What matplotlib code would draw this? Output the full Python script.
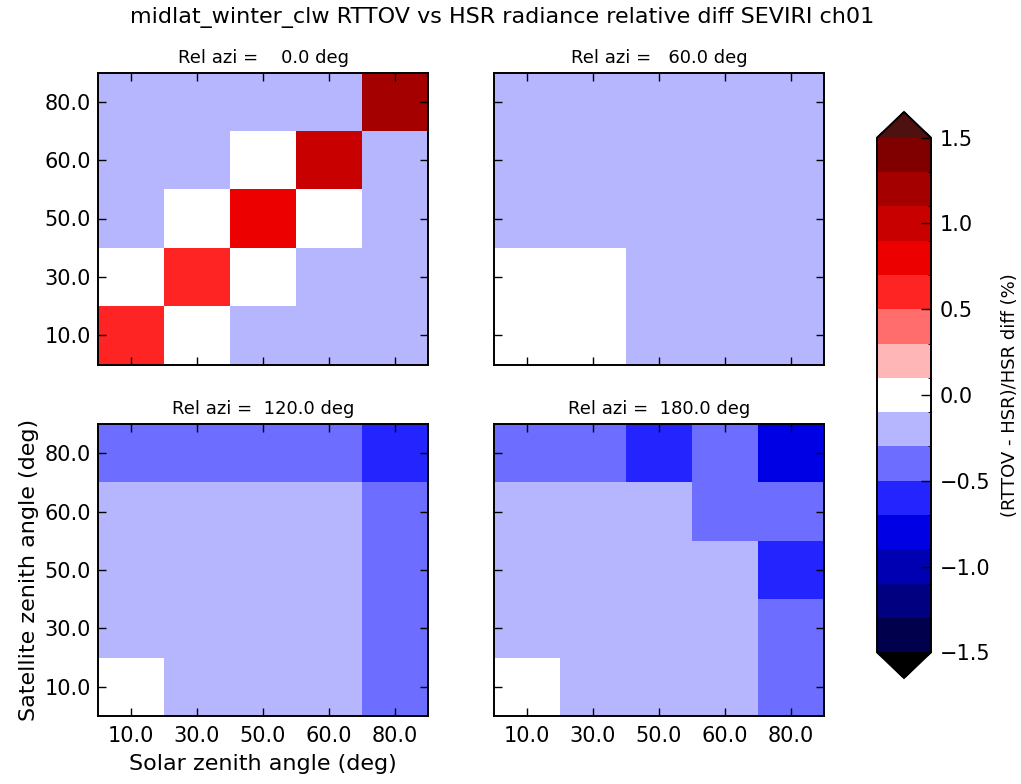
import numpy as np
import matplotlib
matplotlib.use("Agg")
import matplotlib.pyplot as plt
from matplotlib.colors import BoundaryNorm
from matplotlib.ticker import FuncFormatter

# Angle grids
solar_zenith = [10.0, 30.0, 50.0, 60.0, 80.0]
sat_zenith = [10.0, 30.0, 50.0, 60.0, 80.0]
rel_azi = [0.0, 60.0, 120.0, 180.0]

# Relative radiance differences (%), rows = satellite zenith (10 -> 80),
# columns = solar zenith (10 -> 80)
diff_azi0 = [
    [0.6, 0.0, -0.2, -0.2, -0.2],
    [0.0, 0.6, 0.0, -0.2, -0.2],
    [-0.2, 0.0, 0.8, 0.0, -0.2],
    [-0.2, -0.2, 0.0, 1.0, -0.2],
    [-0.2, -0.2, -0.2, -0.2, 1.2],
]
diff_azi60 = [
    [0.0, 0.0, -0.2, -0.2, -0.2],
    [0.0, 0.0, -0.2, -0.2, -0.2],
    [-0.2, -0.2, -0.2, -0.2, -0.2],
    [-0.2, -0.2, -0.2, -0.2, -0.2],
    [-0.2, -0.2, -0.2, -0.2, -0.2],
]
diff_azi120 = [
    [0.0, -0.2, -0.2, -0.2, -0.4],
    [-0.2, -0.2, -0.2, -0.2, -0.4],
    [-0.2, -0.2, -0.2, -0.2, -0.4],
    [-0.2, -0.2, -0.2, -0.2, -0.4],
    [-0.4, -0.4, -0.4, -0.4, -0.6],
]
diff_azi180 = [
    [0.0, -0.2, -0.2, -0.2, -0.4],
    [-0.2, -0.2, -0.2, -0.2, -0.4],
    [-0.2, -0.2, -0.2, -0.2, -0.6],
    [-0.2, -0.2, -0.2, -0.4, -0.4],
    [-0.4, -0.4, -0.6, -0.4, -0.8],
]
panels = [diff_azi0, diff_azi60, diff_azi120, diff_azi180]

levels = np.linspace(-1.5, 1.5, 16)
cbar_ticks = [-1.5, -1.0, -0.5, 0.0, 0.5, 1.0, 1.5]

plt.rcParams.update({
    "font.family": "DejaVu Sans",
    "xtick.direction": "in",
    "ytick.direction": "in",
    "xtick.top": True,
    "ytick.right": True,
    "xtick.major.size": 6,
    "ytick.major.size": 6,
    "xtick.major.width": 1.0,
    "ytick.major.width": 1.0,
    "xtick.major.pad": 7,
    "ytick.major.pad": 5,
    "axes.linewidth": 1.4,
})

# Discrete seismic palette, one colour per interval
cmap = plt.get_cmap("seismic", len(levels) - 1).copy()
cmap.set_over("#4f1010")
cmap.set_under("black")
norm = BoundaryNorm(levels, cmap.N)

W, H = 1021, 784
fig = plt.figure(figsize=(W / 100, H / 100), dpi=100)

lefts = [98, 494, 98, 494]
tops = [72.5, 72.5, 424, 424]
aw, ah = 330, 292

fmt = lambda v: f"{v:.1f}"
mesh = None
for i, (data, azi) in enumerate(zip(panels, rel_azi)):
    ax = fig.add_axes([lefts[i] / W, 1 - (tops[i] + ah) / H, aw / W, ah / H])
    arr = np.array(data)
    mesh = ax.pcolormesh(np.arange(len(solar_zenith) + 1),
                         np.arange(len(sat_zenith) + 1),
                         arr, cmap=cmap, norm=norm)
    ax.set_xlim(0, len(solar_zenith))
    ax.set_ylim(0, len(sat_zenith))
    ax.set_xticks(np.arange(len(solar_zenith)) + 0.5)
    ax.set_yticks(np.arange(len(sat_zenith)) + 0.5)
    if i >= 2:
        ax.set_xticklabels([fmt(v) for v in solar_zenith], fontsize=15)
    else:
        ax.set_xticklabels([])
    if i % 2 == 0:
        ax.set_yticklabels([fmt(v) for v in sat_zenith], fontsize=15)
    else:
        ax.set_yticklabels([])
    ax.set_title(f"Rel azi = {azi:6.1f} deg", fontsize=13, pad=7)
    if i == 2:
        ax.set_xlabel("Solar zenith angle (deg)", fontsize=16, labelpad=6)
        ax.set_ylabel("Satellite zenith angle (deg)", fontsize=16, labelpad=4)

cax = fig.add_axes([877 / W, 1 - 678 / H, 54 / W, 566 / H])
cbar = fig.colorbar(mesh, cax=cax, extend="both", ticks=cbar_ticks,
                    format=FuncFormatter(lambda v, p: f"{v:.1f}".replace("-", "\u2212")))
cbar.outline.set_linewidth(1.4)
cbar.ax.tick_params(direction="in", length=7, width=1.0, labelsize=15, pad=6)
cbar.set_label("(RTTOV - HSR)/HSR diff (%)", fontsize=13, labelpad=8)

fig.text(0.492, 1 - 17 / H,
         "midlat_winter_clw RTTOV vs HSR radiance relative diff SEVIRI ch01",
         ha="center", va="center", fontsize=16)

fig.savefig("out.png", dpi=100, facecolor="white")
